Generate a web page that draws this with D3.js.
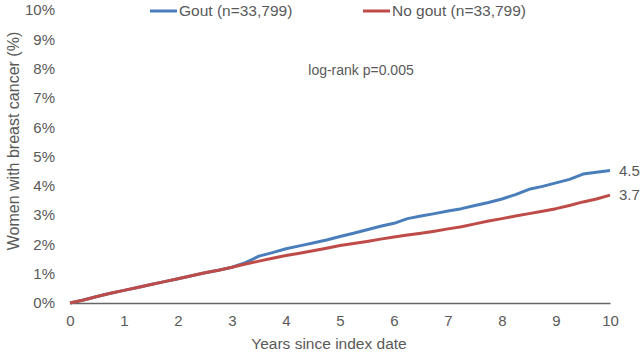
<!DOCTYPE html>
<html>
<head>
<meta charset="utf-8">
<script src="https://cdn.jsdelivr.net/npm/d3@7"></script>
<style>
  body { margin: 0; background: #fff; }
  text { font-family: "Liberation Sans", Arial, sans-serif; fill: #595959; }
</style>
</head>
<body>
<svg id="chart" width="644" height="354"></svg>
<script>
// data (cumulative %, every quarter year)
const years = [0, 0.25, 0.5, 0.75, 1, 1.25, 1.5, 1.75, 2, 2.25, 2.5, 2.75, 3, 3.25, 3.5, 3.75,
  4, 4.25, 4.5, 4.75, 5, 5.25, 5.5, 5.75, 6, 6.25, 6.5, 6.75, 7, 7.25, 7.5, 7.75,
  8, 8.25, 8.5, 8.75, 9, 9.25, 9.5, 9.75, 10];
const gout = [0, 0.1, 0.22, 0.33, 0.43, 0.53, 0.63, 0.73, 0.83, 0.93, 1.03, 1.12, 1.22, 1.38, 1.6, 1.72,
  1.85, 1.95, 2.05, 2.15, 2.27, 2.38, 2.5, 2.62, 2.72, 2.88, 2.97, 3.05, 3.14, 3.22, 3.33, 3.43,
  3.55, 3.7, 3.88, 3.98, 4.1, 4.22, 4.4, 4.46, 4.52];
const noGout = [0, 0.1, 0.22, 0.33, 0.43, 0.53, 0.63, 0.73, 0.83, 0.93, 1.03, 1.12, 1.22, 1.33, 1.43, 1.53,
  1.62, 1.7, 1.78, 1.87, 1.96, 2.03, 2.1, 2.18, 2.25, 2.32, 2.38, 2.45, 2.53, 2.6, 2.7, 2.8,
  2.88, 2.97, 3.05, 3.13, 3.22, 3.33, 3.45, 3.55, 3.68];
const seriesNames = ["Gout (n=33,799)", "No gout (n=33,799)"];
const endLabels = ["4.5", "3.7"];
const xTicks = [0, 1, 2, 3, 4, 5, 6, 7, 8, 9, 10];
const yTicks = [0, 1, 2, 3, 4, 5, 6, 7, 8, 9, 10];
const pText = "log-rank p=0.005";

const colors = ["#4a7ebb", "#be4b48"];
const margin = { top: 10, right: 34, bottom: 51, left: 70 };
const width = 644 - margin.left - margin.right;
const height = 354 - margin.top - margin.bottom;

const svg = d3.select("#chart");
const g = svg.append("g").attr("transform", "translate(" + margin.left + "," + margin.top + ")");

const x = d3.scaleLinear().domain([0, 10]).range([0, width]);
const y = d3.scaleLinear().domain([0, 10]).range([height, 0]);

// y axis: labels only
const yAxis = g.append("g")
  .call(d3.axisLeft(y).tickValues(yTicks).tickSize(0).tickPadding(15).tickFormat(d => d + "%"));
yAxis.select(".domain").remove();
yAxis.selectAll("text").style("font-size", "15px").attr("fill", "#595959");

// x axis: line + labels
const xAxis = g.append("g")
  .attr("transform", "translate(0," + height + ")")
  .call(d3.axisBottom(x).tickValues(xTicks).tickSize(0).tickPadding(12).tickFormat(d3.format("d")));
xAxis.select(".domain").attr("stroke", "#666").attr("stroke-width", 1.3);
xAxis.selectAll("text").style("font-size", "15px").attr("fill", "#595959");

const line = d3.line()
  .x((d, i) => x(years[i]))
  .y(d => y(d));

[gout, noGout].forEach((s, k) => {
  g.append("path")
    .datum(s)
    .attr("d", line)
    .attr("fill", "none")
    .attr("stroke", colors[k])
    .attr("stroke-width", 3)
    .attr("stroke-linejoin", "round");

  g.append("text")
    .attr("x", x(10) + 9)
    .attr("y", y(s[s.length - 1]))
    .attr("dy", "0.35em")
    .style("font-size", "15px")
    .text(endLabels[k]);
});

// legend
const legendX = [150, 363];
seriesNames.forEach((name, k) => {
  svg.append("line")
    .attr("x1", legendX[k]).attr("x2", legendX[k] + 27)
    .attr("y1", 11).attr("y2", 11)
    .attr("stroke", colors[k]).attr("stroke-width", 3);
  svg.append("text")
    .attr("x", legendX[k] + 29)
    .attr("y", 11)
    .attr("dy", "0.35em")
    .style("font-size", "15.5px")
    .text(name);
});

svg.append("text")
  .attr("x", 361).attr("y", 70)
  .attr("dy", "0.35em")
  .attr("text-anchor", "middle")
  .style("font-size", "14px")
  .text(pText);

// axis titles
svg.append("text")
  .attr("transform", "translate(13,141) rotate(-90)")
  .attr("text-anchor", "middle")
  .attr("dy", "0.35em")
  .style("font-size", "16px")
  .text("Women with breast cancer (%)");

svg.append("text")
  .attr("x", 329)
  .attr("y", 344)
  .attr("dy", "0.35em")
  .attr("text-anchor", "middle")
  .style("font-size", "15.5px")
  .text("Years since index date");
</script>
</body>
</html>
